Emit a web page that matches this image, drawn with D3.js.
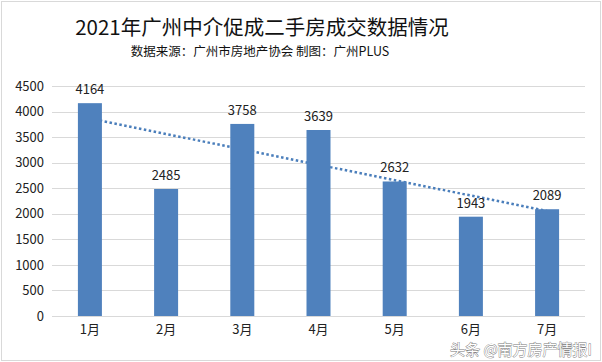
<!DOCTYPE html>
<html><head><meta charset="utf-8">
<script src="https://cdn.jsdelivr.net/npm/d3@7"></script>
<style>body{margin:0;background:#fff}svg{display:block}text{font-family:"Noto Sans CJK SC","Noto Sans",sans-serif}</style>
</head><body>
<script>
const categories = ["1月","2月","3月","4月","5月","6月","7月"];
const values = [4164,2485,3758,3639,2632,1943,2089];
const yTicks = [0,500,1000,1500,2000,2500,3000,3500,4000,4500];
const title = "2021年广州中介促成二手房成交数据情况";
const subtitle = "数据来源：广州市房地产协会 制图：广州PLUS";
const watermark = "头条 @南方房产情报I";

const W=602,H=362;
const svg=d3.select("body").append("svg").attr("width",W).attr("height",H);
svg.append("rect").attr("x",1.5).attr("y",1.5).attr("width",W-3).attr("height",H-3).attr("fill","#fff").attr("stroke","#d9d9d9");

const x=d3.scaleBand().domain(categories).range([52,585]).paddingInner(0.685).paddingOuter(0.34);
const y=d3.scaleLinear().domain([0,4500]).range([316,86]);

// grid
svg.append("g").selectAll("line").data(yTicks).join("line")
 .attr("x1",52).attr("x2",585).attr("y1",d=>Math.round(y(d))+0.5).attr("y2",d=>Math.round(y(d))+0.5)
 .attr("stroke","#d9d9d9").attr("stroke-width",1);

// y axis labels
const ya=svg.append("g").attr("transform","translate(44,0)").call(d3.axisLeft(y).tickValues(yTicks).tickFormat(d3.format("d")).tickSize(0).tickPadding(0));
ya.select(".domain").remove();
ya.selectAll("text").attr("font-size",13).attr("fill","#222").style("font-family","'Noto Sans CJK SC',sans-serif");

// trendline (linear regression, as Excel trendline)
const n=values.length, xs=d3.range(1,n+1);
const mx=d3.mean(xs), my=d3.mean(values);
const slope=d3.sum(xs,(xi,i)=>(xi-mx)*(values[i]-my))/d3.sum(xs,xi=>(xi-mx)**2);
const icpt=my-slope*mx;
const cx=c=>x(c)+x.bandwidth()/2;
svg.append("line")
 .attr("x1",cx(categories[0])).attr("y1",y(icpt+slope*1))
 .attr("x2",cx(categories[n-1])).attr("y2",y(icpt+slope*n))
 .attr("stroke","#4a7ebb").attr("stroke-width",2.5).attr("stroke-dasharray","2.5,2.5");

// bars
svg.append("g").selectAll("rect").data(values).join("rect")
 .attr("x",(d,i)=>x(categories[i])).attr("width",x.bandwidth())
 .attr("y",d=>y(d)).attr("height",d=>y(0)-y(d)).attr("fill","#4f81bd");

// data labels
svg.append("g").selectAll("text").data(values).join("text")
 .attr("x",(d,i)=>cx(categories[i])).attr("y",d=>y(d)-9)
 .attr("text-anchor","middle").attr("font-size",13).attr("fill","#222").text(d=>d);

// x axis labels
const xa=svg.append("g").attr("transform","translate(0,322)").call(d3.axisBottom(x).tickSize(0).tickPadding(0));
xa.select(".domain").remove();
xa.selectAll("text").attr("font-size",13).attr("fill","#222").attr("dy","0.9em").style("font-family","'Noto Sans CJK SC',sans-serif");

// titles
svg.append("text").attr("x",262).attr("y",34.5).attr("text-anchor","middle").attr("font-size",20.5).attr("fill","#111").text(title);
svg.append("text").attr("x",260).attr("y",56).attr("text-anchor","middle").attr("font-size",12.5).attr("fill","#111").text(subtitle);

// watermark
svg.append("text").attr("x",592).attr("y",355).attr("text-anchor","end").attr("font-size",15)
 .attr("fill","#fff").attr("stroke","#777").attr("stroke-width",0.8).attr("paint-order","stroke").text(watermark);
</script>
</body></html>
